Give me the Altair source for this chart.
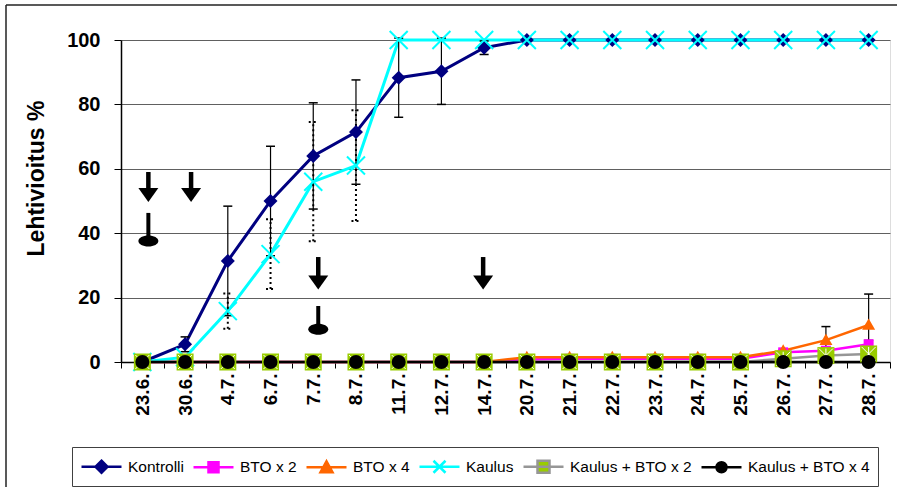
import altair as alt
import pandas as pd

# ---- data -------------------------------------------------------------
dates = ["23.6.", "30.6.", "4.7.", "6.7.", "7.7.", "8.7.", "11.7.", "12.7.", "14.7.",
         "20.7.", "21.7.", "22.7.", "23.7.", "24.7.", "25.7.", "26.7.", "27.7.", "28.7."]

series_names = ["Kontrolli", "BTO x 2", "BTO x 4", "Kaulus",
                "Kaulus + BTO x 2", "Kaulus + BTO x 4"]

kontrolli = [0, 5.5, 31.4, 50, 64, 71.4, 88.3, 90.3, 97.6,
             100, 100, 100, 100, 100, 100, 100, 100, 100]
kontrolli_err = [0, 2.3, 17, 17, 16.5, 16.2, 12.3, 10.3, 2.1,
                 0, 0, 0, 0, 0, 0, 0, 0, 0]

bto2 = [0, 0, 0, 0, 0, 0, 0, 0, 0,
        0.8, 1, 1, 1, 1, 1, 3, 3.5, 5.5]
bto2_err = [0, 0, 0, 0, 0, 0, 0, 0, 0,
            0, 0, 0, 0, 0, 0, 0.8, 0, 1.2]

bto4 = [0, 0, 0, 0, 0, 0, 0, 0, 0,
        1.5, 1.5, 1.5, 1.5, 1.5, 1.5, 3.5, 6.8, 11.5]
bto4_err = [0, 0, 0, 0, 0, 0, 0, 0, 0,
            0, 0, 0, 0, 0, 0, 0, 4.2, 9.6]

kaulus = [0, 1.5, 15.8, 33.5, 56, 61, 100, 100, 100,
          100, 100, 100, 100, 100, 100, 100, 100, 100]
kaulus_err = [0, 0, 5.5, 10.8, 18.5, 17.2, 0, 0, 0,
              0, 0, 0, 0, 0, 0, 0, 0, 0]

kaulus_bto2 = [0, 0, 0, 0, 0, 0, 0, 0, 0,
               0, 0, 0, 0, 0, 0, 1, 2, 2.5]
kaulus_bto2_err = [0] * 18

kaulus_bto4 = [0] * 18
kaulus_bto4_err = [0] * 18

# treatment arrows and application marks (category, value range)
arrow_dates = ["23.6.", "30.6.", "7.7.", "14.7."]
arrow_top = [59.0, 59.0, 32.6, 32.6]
arrow_head = [51.9, 51.9, 24.7, 24.7]
arrow_nudge = [6, 6, 5, -1]

drop_dates = ["23.6.", "7.7."]
drop_top = [46.3, 17.4]
drop_base = [37.6, 10.2]
drop_nudge = [6, 5]

# ---- styling ----------------------------------------------------------
FONT = "Liberation Sans"
line_colors = ["#000080", "#FF00FF", "#FF6600", "#00FFFF", "#969696", "#000000"]
line_widths = [3, 2.5, 2.5, 3, 2.5, 2.5]
err_dash = [None, None, None, [2, 3], None, None]

all_values = [kontrolli, bto2, bto4, kaulus, kaulus_bto2, kaulus_bto4]
all_errors = [kontrolli_err, bto2_err, bto4_err, kaulus_err, kaulus_bto2_err, kaulus_bto4_err]

rows = []
for name, vals, errs in zip(series_names, all_values, all_errors):
    for d, v, e in zip(dates, vals, errs):
        rows.append({"series": name, "date": d, "value": v, "err": e,
                     "lo": v - e, "hi": v + e})
df = pd.DataFrame(rows)

x_axis = alt.Axis(title=None, labelAngle=-90, labelFont=FONT, labelFontSize=19,
                  labelFontWeight="bold", labelColor="black", labelPadding=5,
                  labelOverlap=False, tickBand="extent", tickSize=6,
                  tickColor="black", tickWidth=1, domainColor="black",
                  domainWidth=1.5, grid=False)
y_axis = alt.Axis(title="Lehtivioitus %", values=[0, 20, 40, 60, 80, 100],
                  labelFont=FONT, labelFontSize=20, labelFontWeight="bold",
                  labelColor="black", labelPadding=14, tickSize=7,
                  tickColor="black", domainColor="black", domainWidth=1.5,
                  grid=True, gridColor="#606060", gridWidth=1,
                  titleFont=FONT, titleFontSize=23, titleFontWeight="bold",
                  titleColor="black", titlePadding=18, titleY=138)


def X():
    return alt.X("date:N", sort=dates,
                 scale=alt.Scale(type="band", domain=dates, paddingInner=0, paddingOuter=0),
                 axis=x_axis)


def Y(field):
    return alt.Y(f"{field}:Q", scale=alt.Scale(domain=[0, 100], nice=False),
                 axis=y_axis)


layers = []

# series lines
for name, col, w in zip(series_names, line_colors, line_widths):
    layers.append(
        alt.Chart(df).transform_filter(alt.datum.series == name)
        .mark_line(color=col, strokeWidth=w)
        .encode(x=X(), y=Y("value"))
    )

# error bars with caps
cap_shape = "M-1,0H1"
for name, dash in zip(series_names, err_dash):
    sub = alt.Chart(df).transform_filter((alt.datum.series == name) & (alt.datum.err > 0))
    rule_kw = dict(color="black", strokeWidth=1.2)
    cap_kw = dict(shape=cap_shape, size=81, color="black", strokeWidth=1.5, opacity=1)
    if dash:
        rule_kw.update(strokeDash=dash, strokeWidth=2)
        cap_kw.update(strokeDash=dash, strokeWidth=2)
    layers.append(sub.mark_rule(**rule_kw).encode(x=X(), y=Y("lo"), y2="hi:Q"))
    layers.append(sub.mark_point(**cap_kw).encode(x=X(), y=Y("hi")))
    layers.append(sub.mark_point(**cap_kw).encode(x=X(), y=Y("lo")))

# markers
marker_specs = [
    ("Kontrolli", dict(shape="M0,-1L1,0L0,1L-1,0Z", size=196, filled=True, color="#000080")),
    ("BTO x 2", dict(shape="M-1,-1H1V1H-1Z", size=100, filled=True, color="#FF00FF")),
    ("BTO x 4", dict(shape="M0,-1L1,0.75L-1,0.75Z", size=169, filled=True, color="#FF6600")),
    ("Kaulus", dict(shape="M-1,-1L1,1M-1,1L1,-1", size=324, filled=False, color="#00FFFF", strokeWidth=2)),
    ("Kaulus + BTO x 2", dict(shape="M-1,-1H1V1H-1Z", size=289, filled=True, color="#99CC00")),
    ("Kaulus + BTO x 2", dict(shape="M-1,-1L1,1M-1,1L1,-1M0,-1V1", size=196, filled=False, color="white", strokeWidth=1)),
    ("Kaulus + BTO x 4", dict(shape="circle", size=196, filled=True, color="black")),
]
for name, kw in marker_specs:
    layers.append(
        alt.Chart(df).transform_filter(alt.datum.series == name)
        .mark_point(opacity=1, **kw)
        .encode(x=X(), y=Y("value"))
    )

# legend: line + marker symbols (symbol unit = 10 px; line spans 40 px),
# drawn by the legend only (the carrier marks are clipped away)
legend_paths = [
    "M-1,0H3M1,-0.6L1.6,0L1,0.6L0.4,0Z",
    "M-1,0H3M0.5,-0.5H1.5V0.5H0.5Z",
    "M-1,0H3M1,-0.6L1.6,0.5L0.4,0.5Z",
    "M-1,0H3M0.4,-0.6L1.6,0.6M0.4,0.6L1.6,-0.6",
    "M-1,0H3M0.4,-0.6H1.6V0.6H0.4Z",
    "M-1,0H3M1.5,0A0.5,0.5 0 1 1 0.5,0A0.5,0.5 0 1 1 1.5,0Z",
]
legend_fill = ["#000080", "#FF00FF", "#FF6600", "transparent", "#99CC00", "#000000"]
legend = alt.Legend(title=None, orient="none", legendX=-49, legendY=407,
                    direction="horizontal", columns=6, strokeColor="#404040",
                    padding=8, labelFont=FONT, labelFontSize=15.5,
                    labelColor="black", labelOffset=25, columnPadding=4,
                    symbolSize=400, symbolStrokeWidth=2.5, symbolOpacity=1)
legend_df = pd.DataFrame({"series": series_names, "date": dates[0], "value": -50})
layers.append(
    alt.Chart(legend_df).mark_point(size=400, filled=True, opacity=1,
                                    strokeWidth=2.5, clip=True)
    .encode(
        x=X(), y=Y("value"),
        stroke=alt.Stroke("series:N", scale=alt.Scale(domain=series_names, range=line_colors), legend=legend),
        fill=alt.Fill("series:N", scale=alt.Scale(domain=series_names, range=legend_fill), legend=legend),
        shape=alt.Shape("series:N", scale=alt.Scale(domain=series_names, range=legend_paths), legend=legend),
    )
)

# treatment arrows
for d, top, head, nudge in zip(arrow_dates, arrow_top, arrow_head, arrow_nudge):
    a = alt.Chart(pd.DataFrame({"date": [d], "top": [top], "head": [head]}))
    layers.append(a.mark_rule(color="black", strokeWidth=4.5, xOffset=nudge)
                  .encode(x=X(), y=Y("top"), y2="head:Q"))
    layers.append(a.mark_point(shape="M-1,-0.7L1,-0.7L0,0.7Z", size=400, filled=True,
                               color="black", opacity=1, xOffset=nudge)
                  .encode(x=X(), y=Y("head")))

# application marks
for d, top, base, nudge in zip(drop_dates, drop_top, drop_base, drop_nudge):
    m = alt.Chart(pd.DataFrame({"date": [d], "top": [top], "base": [base]}))
    layers.append(m.mark_rule(color="black", strokeWidth=4, xOffset=nudge)
                  .encode(x=X(), y=Y("top"), y2="base:Q"))
    layers.append(m.mark_point(shape="M-1,0A1,0.55 0 1 1 1,0A1,0.55 0 1 1 -1,0Z", size=400,
                               filled=True, color="black", opacity=1, xOffset=nudge)
                  .encode(x=X(), y=Y("base")))

# outer chart frame
frame = alt.Chart(pd.DataFrame({"k": [0]}))
layers.append(frame.mark_rule(color="#222222", strokeWidth=1.5)
              .encode(x=alt.value(-115), x2=alt.value(800), y=alt.value(-35)))
layers.append(frame.mark_rule(color="#222222", strokeWidth=1.5)
              .encode(x=alt.value(-115), y=alt.value(-35), y2=alt.value(460)))

chart = (
    alt.layer(*layers)
    .properties(width=769, height=322,
                padding={"left": 121, "top": 40, "right": 7, "bottom": 125},
                autosize=alt.AutoSizeParams(type="none"))
    .configure_view(stroke="#808080", strokeWidth=1.5)
    .configure(background="white")
)

chart.save("out.html", embed_options={"renderer": "svg", "actions": False})
